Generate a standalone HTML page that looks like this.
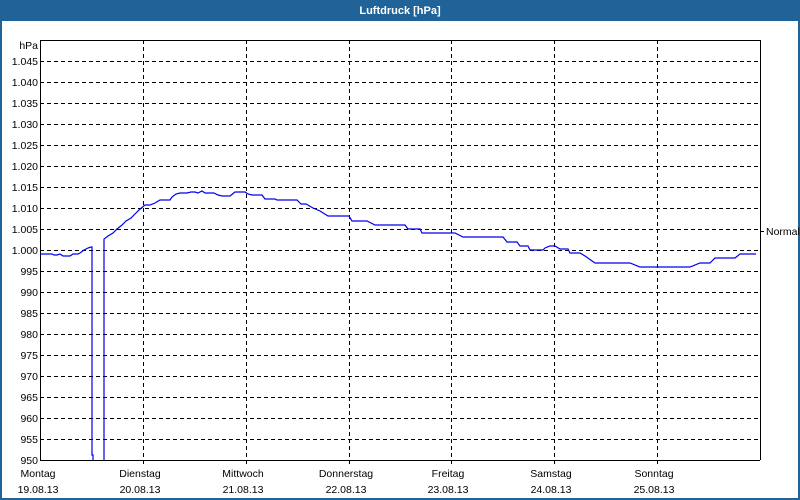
<!DOCTYPE html>
<html><head><meta charset="utf-8"><style>
html,body{margin:0;padding:0;background:#fff}
#w{position:relative;width:800px;height:500px;overflow:hidden;font-family:"Liberation Sans",sans-serif}
</style></head><body><div id="w">
<svg width="800" height="500" xmlns="http://www.w3.org/2000/svg" font-family="Liberation Sans, sans-serif" font-size="10.5">
<rect x="0" y="0" width="800" height="500" fill="#1f6399"/>
<rect x="2" y="21" width="796" height="477" fill="#fff"/>
<text x="400" y="14" fill="#fff" font-weight="bold" text-anchor="middle" font-size="11">Luftdruck [hPa]</text>
<g stroke="#000" stroke-width="1" stroke-dasharray="4,3" shape-rendering="crispEdges">
<line x1="40" x2="760" y1="61.5" y2="61.5"/><line x1="40" x2="760" y1="82.5" y2="82.5"/><line x1="40" x2="760" y1="103.5" y2="103.5"/><line x1="40" x2="760" y1="124.5" y2="124.5"/><line x1="40" x2="760" y1="145.5" y2="145.5"/><line x1="40" x2="760" y1="166.5" y2="166.5"/><line x1="40" x2="760" y1="187.5" y2="187.5"/><line x1="40" x2="760" y1="208.5" y2="208.5"/><line x1="40" x2="760" y1="229.5" y2="229.5"/><line x1="40" x2="760" y1="250.5" y2="250.5"/><line x1="40" x2="760" y1="271.5" y2="271.5"/><line x1="40" x2="760" y1="292.5" y2="292.5"/><line x1="40" x2="760" y1="313.5" y2="313.5"/><line x1="40" x2="760" y1="334.5" y2="334.5"/><line x1="40" x2="760" y1="355.5" y2="355.5"/><line x1="40" x2="760" y1="376.5" y2="376.5"/><line x1="40" x2="760" y1="397.5" y2="397.5"/><line x1="40" x2="760" y1="418.5" y2="418.5"/><line x1="40" x2="760" y1="439.5" y2="439.5"/>
<line x1="143.5" x2="143.5" y1="40" y2="466"/><line x1="246.5" x2="246.5" y1="40" y2="466"/><line x1="349.5" x2="349.5" y1="40" y2="466"/><line x1="451.5" x2="451.5" y1="40" y2="466"/><line x1="554.5" x2="554.5" y1="40" y2="466"/><line x1="657.5" x2="657.5" y1="40" y2="466"/>
</g>
<g stroke="#000" stroke-width="1" shape-rendering="crispEdges">
<line x1="40.5" x2="40.5" y1="40" y2="460"/><line x1="40" x2="760" y1="40.5" y2="40.5"/><line x1="40" x2="760" y1="460.5" y2="460.5"/><line x1="760.5" x2="760.5" y1="40" y2="460"/>
<line x1="761" x2="764" y1="231.5" y2="231.5"/>
</g>
<g fill="none" stroke="#0000ee" stroke-width="1.2">
<polyline points="40,254 52,254 54,255 57,255 60,254 63,256 70,256 73,254 78,254 80,253 84,250 88,248 91,247 92,247 92,455 93,455 93,460"/>
<polyline points="104,460 104,239 108,236 113,233 117,229 122,225 126,221 131,218 135,214 139,210 145,205 150,205 155,203 160,200 170,200 172,197 176,194 180,193 187,193 191,192 195,192 198,193 202,191 205,193 214,193 218,195 222,196 230,196 235,192 245,192 248,194 252,195 262,195 265,199 275,199 277,200 297,200 301,204 306,204 313,208 320,211 328,216 349,216 352,221 367,221 375,225 405,225 408,229 420,229 422,233 455,233 463,237 503,237 507,242 517,242 520,246 528,246 530,250 543,250 545,248 550,246 555,246 560,249 568,249 570,253 580,253 585,256 595,263 630,263 640,267 690,267 700,263 710,263 715,258 735,258 740,254 756,254"/>
</g>
<g fill="#000" text-anchor="end">
<text x="38" y="49">hPa</text>
<text x="38" y="65">1.045</text><text x="38" y="86">1.040</text><text x="38" y="107">1.035</text><text x="38" y="128">1.030</text><text x="38" y="149">1.025</text><text x="38" y="170">1.020</text><text x="38" y="191">1.015</text><text x="38" y="212">1.010</text><text x="38" y="233">1.005</text><text x="38" y="254">1.000</text><text x="38" y="275">995</text><text x="38" y="296">990</text><text x="38" y="317">985</text><text x="38" y="338">980</text><text x="38" y="359">975</text><text x="38" y="380">970</text><text x="38" y="401">965</text><text x="38" y="422">960</text><text x="38" y="443">955</text><text x="38" y="464">950</text>
</g>
<text x="766" y="235">Normal</text>
<g fill="#000" text-anchor="middle">
<text x="38" y="477">Montag</text><text x="38" y="493">19.08.13</text>
<text x="140" y="477">Dienstag</text><text x="140" y="493">20.08.13</text>
<text x="243" y="477">Mittwoch</text><text x="243" y="493">21.08.13</text>
<text x="346" y="477">Donnerstag</text><text x="346" y="493">22.08.13</text>
<text x="448" y="477">Freitag</text><text x="448" y="493">23.08.13</text>
<text x="551" y="477">Samstag</text><text x="551" y="493">24.08.13</text>
<text x="654" y="477">Sonntag</text><text x="654" y="493">25.08.13</text>
</g>
</svg>
</div></body></html>
